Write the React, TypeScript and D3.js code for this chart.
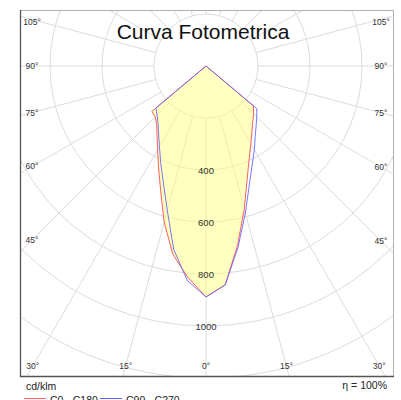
import React, { useEffect, useRef } from "react";
import * as d3 from "d3";

// gamma angles (deg from nadir) and intensities in cd/klm
const gammas = [0, 5, 10, 15, 20, 25, 30, 35, 40, 45, 50, 55, 60, 65, 70, 75, 80, 85, 90];
const c0 = [888, 845, 700, 569, 463, 393, 345, 308, 280, 259, 238, 0, 0, 0, 0, 0, 0, 0, 0];
const c180 = [888, 815, 735, 622, 510, 432, 372, 328, 295, 276, 272, 0, 0, 0, 0, 0, 0, 0, 0];
const c90 = [888, 846, 709, 585, 487, 420, 372, 330, 300, 276, 255, 0, 0, 0, 0, 0, 0, 0, 0];
const c270 = [888, 828, 716, 575, 479, 412, 358, 318, 287, 266, 252, 0, 0, 0, 0, 0, 0, 0, 0];

const gridCircles = [200, 400, 600, 800, 1000, 1200, 1400];
const radialTicks = [400, 600, 800, 1000];
const angleTicks = [0, 15, 30, 45, 60, 75, 90, 105];
const legendItems = [
  { label: "C0 - C180", color: "#ff6060" },
  { label: "C90 - C270", color: "#6060ff" },
];

const W = 401;
const H = 400;
const FONT = "'Liberation Sans', Arial, sans-serif";

const App = () => {
  const svgRef = useRef<SVGSVGElement>(null);

  useEffect(() => {
    const svg = d3.select(svgRef.current);
    svg.selectAll("*").remove();

    const box = { left: 20, top: 10, right: 393, bottom: 376 };
    const cx = 206;
    const cy = 66;
    const rad = Math.PI / 180;

    const r = d3.scaleLinear().domain([0, 1000]).range([0, 260]);

    svg
      .append("defs")
      .append("clipPath")
      .attr("id", "plotClip")
      .append("rect")
      .attr("x", box.left)
      .attr("y", box.top)
      .attr("width", box.right - box.left)
      .attr("height", box.bottom - box.top);

    const plot = svg.append("g").attr("clip-path", "url(#plotClip)");
    const grid = plot.append("g").attr("transform", `translate(${cx},${cy})`);

    // circles
    grid
      .selectAll("circle")
      .data(gridCircles)
      .join("circle")
      .attr("r", (d) => r(d))
      .attr("fill", "none")
      .attr("stroke", "#dcdcdc")
      .attr("stroke-width", 1);

    // spokes every 15 deg, starting at the first circle
    grid
      .selectAll("line")
      .data(d3.range(0, 360, 15))
      .join("line")
      .attr("x1", (g) => Math.sin(g * rad) * r(200))
      .attr("y1", (g) => Math.cos(g * rad) * r(200))
      .attr("x2", (g) => Math.sin(g * rad) * r(1800))
      .attr("y2", (g) => Math.cos(g * rad) * r(1800))
      .attr("stroke", "#dcdcdc")
      .attr("stroke-width", 1);

    // left half goes 90 -> 0, right half 0 -> 90
    const halfPlanes = (left, right) => [
      ...gammas.map((g, i) => ({ a: Math.PI + g * rad, v: left[i] })).reverse(),
      ...gammas.map((g, i) => ({ a: Math.PI - g * rad, v: right[i] })),
    ];
    const line = d3
      .lineRadial<{ a: number; v: number }>()
      .angle((d) => d.a)
      .radius((d) => r(d.v));

    const curves = plot.append("g").attr("transform", `translate(${cx},${cy})`);
    const redPts = halfPlanes(c180, c0);
    const bluePts = halfPlanes(c270, c90);

    curves
      .append("path")
      .attr("d", line(redPts) + "Z")
      .attr("fill", "#ffff80")
      .attr("fill-opacity", 0.5);

    curves
      .append("path")
      .attr("d", line(redPts) + "Z")
      .attr("fill", "none")
      .attr("stroke", legendItems[0].color)
      .attr("stroke-width", 1);

    curves
      .append("path")
      .attr("d", line(bluePts) + "Z")
      .attr("fill", "none")
      .attr("stroke", legendItems[1].color)
      .attr("stroke-opacity", 0.85)
      .attr("stroke-width", 1);

    // frame
    svg
      .append("rect")
      .attr("x", box.left + 0.5)
      .attr("y", box.top + 0.5)
      .attr("width", box.right - box.left)
      .attr("height", box.bottom - box.top)
      .attr("fill", "none")
      .attr("stroke", "#b0b0b0");
    svg
      .append("path")
      .attr("d", `M${box.left + 0.5},${box.top}V${box.bottom + 0.5}H${box.right + 1}`)
      .attr("fill", "none")
      .attr("stroke", "#555")
      .attr("stroke-width", 1.3);

    // value labels along the nadir
    svg
      .append("g")
      .selectAll("text")
      .data(radialTicks)
      .join("text")
      .attr("x", cx)
      .attr("y", (d) => cy + r(d))
      .attr("text-anchor", "middle")
      .attr("dominant-baseline", "central")
      .attr("font-family", FONT)
      .attr("font-size", 9.5)
      .attr("fill", "#333")
      .text((d) => d);

    // angle labels where the spokes meet an inset of the frame
    const inner = { left: 32, right: 381, top: 0, bottom: 366 };
    const labelPos = (g) => {
      const dx = Math.sin(g * rad);
      const dy = Math.cos(g * rad);
      const ts = [];
      if (dx > 1e-6) ts.push((inner.right - cx) / dx);
      if (dx < -1e-6) ts.push((inner.left - cx) / dx);
      if (dy > 1e-6) ts.push((inner.bottom - cy) / dy);
      if (dy < -1e-6) ts.push((inner.top - cy) / dy);
      const t = Math.min(...ts);
      return [cx + dx * t, Math.max(cy + dy * t, 22)];
    };
    const angleLabels = angleTicks.flatMap((a) => (a === 0 ? [a] : [-a, a]));
    svg
      .append("g")
      .selectAll("text")
      .data(angleLabels)
      .join("text")
      .attr("x", (g) => labelPos(g)[0])
      .attr("y", (g) => labelPos(g)[1])
      .attr("text-anchor", "middle")
      .attr("dominant-baseline", "central")
      .attr("font-family", FONT)
      .attr("font-size", 8.5)
      .attr("fill", "#333")
      .text((g) => `${Math.abs(g)}°`);

    // title
    svg
      .append("text")
      .attr("x", 203)
      .attr("y", 38.5)
      .attr("text-anchor", "middle")
      .attr("font-family", FONT)
      .attr("font-size", 21)
      .attr("fill", "#111")
      .text("Curva Fotometrica");

    // footer
    svg
      .append("text")
      .attr("x", 26)
      .attr("y", 390)
      .attr("font-family", FONT)
      .attr("font-size", 10.5)
      .attr("fill", "#222")
      .text("cd/klm");

    svg
      .append("text")
      .attr("x", 387)
      .attr("y", 389)
      .attr("text-anchor", "end")
      .attr("font-family", FONT)
      .attr("font-size", 10.5)
      .attr("fill", "#222")
      .text("η = 100%");

    const legend = svg
      .append("g")
      .selectAll("g")
      .data(legendItems)
      .join("g")
      .attr("transform", (d, i) => `translate(${24 + i * 76},398.5)`);
    legend
      .append("line")
      .attr("x1", 0)
      .attr("x2", 22)
      .attr("stroke", (d) => d.color)
      .attr("stroke-width", 1);
    legend
      .append("text")
      .attr("x", 26)
      .attr("y", 5)
      .attr("font-family", FONT)
      .attr("font-size", 10.5)
      .attr("fill", "#222")
      .text((d) => d.label);
  }, []);

  return (
    <svg
      ref={svgRef}
      width={W}
      height={H}
      style={{ position: "absolute", left: 0, top: 0, background: "#fff" }}
    />
  );
};

export default App;
